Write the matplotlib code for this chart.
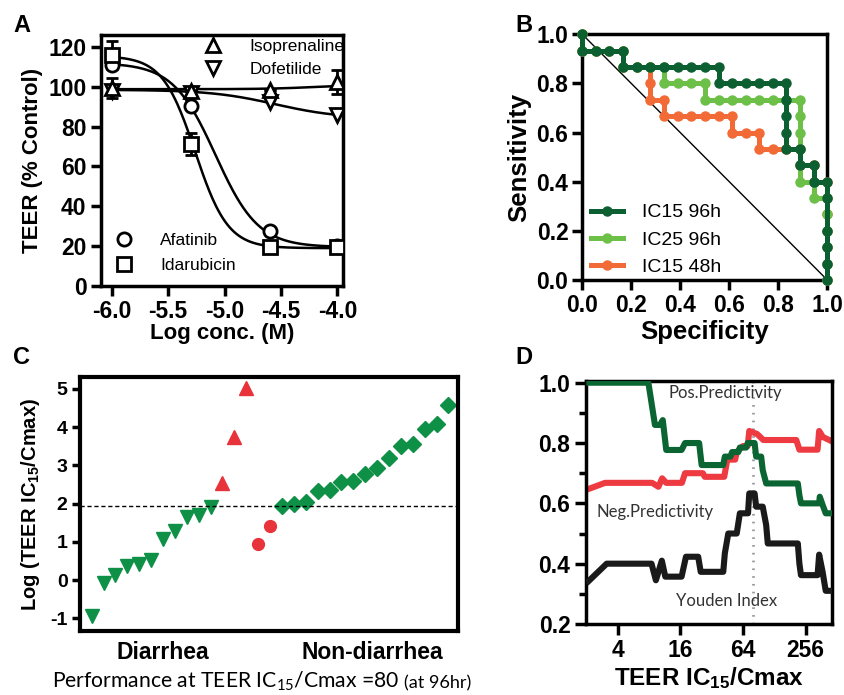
import numpy as np
import matplotlib
matplotlib.use('Agg')
import matplotlib.pyplot as plt
from matplotlib.lines import Line2D

plt.rcParams['font.family'] = ['Liberation Sans', 'DejaVu Sans']
plt.rcParams['axes.unicode_minus'] = False
plt.rcParams['mathtext.default'] = 'regular'

# ---- panel A: TEER concentration response ----
conc = [-6.0, -5.3, -4.6, -4.0]
afatinib = [111, 90.5, 27.5, 20]
idarubicin = [116, 71.5, 19.5, 19.5]
idarubicin_err = [7, 5.5, 0, 0]
isoprenaline = [99.5, 98, 98.3, 102.5]
isoprenaline_err = [5, 0, 0, 6]
dofetilide = [98, 97, 92.5, 85.8]
# 4PL fit parameters: top, bottom, logIC50, hill
fit_afatinib = (112, 19.5, -5.08, 2.3)
fit_idarubicin = (115.5, 19, -5.26, 3.0)
fit_isoprenaline = (98.8, 101, -4.2, 2.0)
fit_dofetilide = (98.5, 84, -4.55, 1.5)

# ---- panel B: ROC curves ----
spec_ic15_96 = [0, 0, .056, .111, .167, .167, .222, .278, .333, .389, .444, .5, .556, .556, .611, .667, .722,
                .778, .833, .833, .833, .833, .833, .889, .889, .944, .944, 1, 1, 1, 1, 1, 1]
sens_ic15_96 = [1, .933, .933, .933, .933, .867, .867, .867, .867, .867, .867, .867, .867, .8, .8, .8, .8, .8,
                .8, .733, .667, .6, .533, .533, .467, .467, .4, .4, .333, .2, .133, .067, 0]
spec_ic25_96 = [0, 0, .056, .111, .167, .167, .222, .278, .333, .333, .389, .444, .5, .5, .556, .611, .667,
                .722, .778, .833, .889, .889, .889, .889, .889, .889, .944, .944, 1, 1, 1, 1, 1, 1]
sens_ic25_96 = [1, .933, .933, .933, .933, .867, .867, .867, .867, .8, .8, .8, .8, .733, .733, .733, .733,
                .733, .733, .733, .733, .667, .6, .533, .467, .4, .4, .333, .333, .267, .2, .133, .067, 0]
spec_ic15_48 = [0, 0, .056, .111, .167, .167, .222, .278, .278, .278, .333, .333, .389, .444, .5, .556, .611,
                .611, .667, .722, .722, .778, .833, .889, .889, .944, .944, 1, 1, 1, 1, 1, 1, 1]
sens_ic15_48 = [1, .933, .933, .933, .933, .867, .867, .867, .8, .733, .733, .667, .667, .667, .667, .667,
                .667, .6, .6, .6, .533, .533, .533, .533, .467, .467, .4, .4, .333, .267, .2, .133, .067, 0]

# ---- panel C: log(TEER IC15/Cmax) per drug ----
diarrhea_true = [-0.95, -0.08, 0.14, 0.37, 0.41, 0.53, 1.07, 1.29, 1.66, 1.70, 1.92]
diarrhea_false = [2.53, 3.75, 5.02]
nondiarrhea_false = [0.94, 1.42]
nondiarrhea_true = [1.94, 1.99, 2.05, 2.34, 2.36, 2.56, 2.60, 2.78, 2.93, 3.19, 3.51, 3.56, 3.95, 4.08, 4.58]
cutoff_log = 1.94

# ---- panel D: predictivity vs threshold (x in log2 units) ----
pos_x = [1.0, 2.98, 3.19, 3.35, 3.44, 3.55, 4.04, 4.15, 4.6, 4.68, 5.37, 5.42, 5.6, 5.65, 5.85, 5.9, 6.1,
         6.15, 6.37, 6.42, 6.58, 6.63, 6.74, 7.75, 7.8, 7.85, 8.43, 8.45, 8.54, 8.64, 8.85]
pos_y = [1.0, 1.0, 0.86, 0.86, 0.876, 0.777, 0.777, 0.80, 0.80, 0.727, 0.727, 0.755, 0.755, 0.77, 0.77,
         0.785, 0.785, 0.80, 0.80, 0.755, 0.755, 0.71, 0.666, 0.666, 0.627, 0.60, 0.60, 0.622, 0.595, 0.567, 0.567]
neg_x = [1.0, 1.6, 3.1, 3.3, 3.42, 3.55, 4.05, 4.15, 4.72, 4.78, 5.4, 5.5, 5.75, 5.8, 6.0, 6.15, 6.2, 6.45,
         6.65, 7.7, 7.8, 8.38, 8.43, 8.55, 8.85]
neg_y = [0.645, 0.668, 0.668, 0.655, 0.683, 0.668, 0.668, 0.70, 0.70, 0.688, 0.688, 0.745, 0.745, 0.77, 0.79,
         0.79, 0.84, 0.83, 0.81, 0.81, 0.778, 0.778, 0.84, 0.82, 0.805]
you_x = [1.0, 1.65, 3.08, 3.22, 3.41, 3.52, 4.04, 4.18, 4.57, 4.65, 5.37, 5.42, 5.53, 5.8, 5.9, 6.16, 6.2,
         6.37, 6.42, 6.63, 6.74, 6.79, 7.75, 7.8, 7.85, 8.38, 8.43, 8.54, 8.64, 8.85]
you_y = [0.335, 0.40, 0.40, 0.345, 0.41, 0.357, 0.357, 0.423, 0.423, 0.373, 0.373, 0.434, 0.50, 0.50, 0.567,
         0.567, 0.633, 0.633, 0.589, 0.589, 0.528, 0.467, 0.467, 0.40, 0.362, 0.362, 0.43, 0.373, 0.31, 0.31]
cutoff_ratio = 80

W, H = 844, 695
fig = plt.figure(figsize=(W / 100, H / 100), dpi=100)


def box(l, t, r, b):
    return [l / W, 1 - b / H, (r - l) / W, (b - t) / H]


def style(ax, lw=2.5):
    for s in ax.spines.values():
        s.set_linewidth(lw)


def fourpl(x, p):
    top, bottom, ic50, hill = p
    return bottom + (top - bottom) / (1 + 10 ** ((x - ic50) * hill))


# ===== A =====
axA = fig.add_axes(box(100.5, 35, 343, 286))
style(axA)
xs = np.linspace(-6, -4, 200)
for p in (fit_afatinib, fit_idarubicin, fit_isoprenaline, fit_dofetilide):
    axA.plot(xs, fourpl(xs, p), color='black', lw=1.8, zorder=2)
mk = dict(mfc='white', mec='black', mew=2, ms=9.5, ls='none', zorder=3)
axA.errorbar(conc, idarubicin, yerr=idarubicin_err, fmt='s', capsize=4.5, ecolor='black', elinewidth=2,
             capthick=2, **mk)
axA.errorbar(conc, isoprenaline, yerr=isoprenaline_err, fmt='^', capsize=4.5, ecolor='black', elinewidth=2,
             capthick=2, **mk)
axA.plot(conc, dofetilide, 'v', **mk)
axA.plot(conc, afatinib, 'o', **mk)
axA.set_xlim(-6.1, -3.95)
axA.set_ylim(0, 126)
axA.set_xticks([-6.0, -5.5, -5.0, -4.5, -4.0])
axA.set_xticklabels(['-6.0', '-5.5', '-5.0', '-4.5', '-4.0'])
axA.set_yticks(range(0, 121, 20))
axA.tick_params(width=2.5, length=7, labelsize=16.5, pad=3)
for t in axA.get_xticklabels() + axA.get_yticklabels():
    t.set_fontweight('bold')
axA.set_xlabel('Log conc. (M)', fontsize=16, fontweight='bold', labelpad=0)
axA.set_ylabel('TEER (% Control)', fontsize=16, fontweight='bold', labelpad=4)
lm = dict(mfc='white', mec='black', mew=2, ms=9.5, ls='none')
h1 = [Line2D([], [], marker='^', **lm), Line2D([], [], marker='v', **lm)]
leg1 = axA.legend(h1, ['Isoprenaline', 'Dofetilide'], loc='upper left', bbox_to_anchor=(0.428, 0.985),
                  frameon=False, fontsize=12.5, handlelength=1.0, handletextpad=1.6, borderpad=0,
                  borderaxespad=0, labelspacing=0.45)
axA.add_artist(leg1)
h2 = [Line2D([], [], marker='o', **lm), Line2D([], [], marker='s', **lm)]
axA.legend(h2, ['Afatinib', 'Idarubicin'], loc='upper left', bbox_to_anchor=(0.061, 0.21),
           frameon=False, fontsize=12.5, handlelength=1.0, handletextpad=1.6, borderpad=0,
           borderaxespad=0, labelspacing=0.55)
fig.text(13 / W, 1 - 26 / H, 'A', fontsize=17, fontweight='bold', va='center')

# ===== B =====
axB = fig.add_axes(box(582.3, 34.3, 827.3, 280))
style(axB)
axB.plot([0, 1], [1, 0], color='black', lw=1.0, zorder=1)
roc = [(spec_ic15_48, sens_ic15_48, '#F26A36', 'IC15 48h'),
       (spec_ic25_96, sens_ic25_96, '#6CBF47', 'IC25 96h'),
       (spec_ic15_96, sens_ic15_96, '#0B5F30', 'IC15 96h')]
for sx, sy, c, lab in roc:
    axB.plot(sx, sy, color=c, lw=3.6, marker='o', ms=6.5, label=lab, clip_on=False, zorder=3)
axB.set_xlim(0, 1)
axB.set_ylim(0, 1)
ticks = [0, 0.2, 0.4, 0.6, 0.8, 1.0]
axB.set_xticks(ticks)
axB.set_yticks(ticks)
axB.set_xticklabels(['%.1f' % t for t in ticks])
axB.set_yticklabels(['%.1f' % t for t in ticks])
axB.tick_params(width=2.5, length=7, labelsize=16.5, pad=3)
for t in axB.get_xticklabels() + axB.get_yticklabels():
    t.set_fontweight('bold')
axB.set_xlabel('Specificity', fontsize=18.5, fontweight='bold', labelpad=2)
axB.set_ylabel('Sensitivity', fontsize=18.5, fontweight='bold', labelpad=4)
hl, ll = axB.get_legend_handles_labels()
axB.legend(hl[::-1], ll[::-1], loc='upper left', bbox_to_anchor=(0.034, 0.31), frameon=False, fontsize=14,
           handlelength=1.65, handletextpad=1.0, borderpad=0, borderaxespad=0, labelspacing=0.5)
fig.text(515 / W, 1 - 26 / H, 'B', fontsize=17, fontweight='bold', va='center')

# ===== C =====
axC = fig.add_axes(box(80, 377, 458, 631))
style(axC, 3)
n1, n2, n3 = len(diarrhea_true), len(diarrhea_false), len(nondiarrhea_false)
x1 = np.arange(n1)
x2 = np.arange(n2) + n1
x3 = np.arange(n3) + n1 + n2
x4 = np.arange(len(nondiarrhea_true)) + n1 + n2 + n3
green, red = '#0E9147', '#E8333B'
axC.plot(x1, diarrhea_true, 'v', color=green, ms=10, ls='none')
axC.plot(x2, diarrhea_false, '^', color=red, ms=10, ls='none')
axC.plot(x3, nondiarrhea_false, 'o', color=red, ms=8.5, ls='none')
axC.plot(x4, nondiarrhea_true, 'D', color=green, ms=8, ls='none')
axC.axhline(cutoff_log, color='black', lw=1.0, ls=(0, (3, 2)))
axC.set_xlim(-0.98, 30.8)
axC.set_ylim(-1.33, 5.31)
axC.set_yticks(range(-1, 6))
axC.set_xticks([6.0, 23.6])
axC.set_xticklabels(['Diarrhea', 'Non-diarrhea'], fontsize=16.5, fontweight='bold')
axC.tick_params(axis='x', length=0, pad=7)
axC.tick_params(axis='y', width=2.5, length=6, labelsize=14, pad=3)
for t in axC.get_yticklabels():
    t.set_fontweight('bold')
axC.set_ylabel('Log (TEER IC$_{15}$/Cmax)', fontsize=14.5, fontweight='bold', labelpad=6)
fig.text(52 / W, 1 - 688 / H, 'Performance at TEER IC$_{15}$/Cmax =80', fontsize=15.2, family='Lato',
         va='baseline')
fig.text(404 / W, 1 - 688 / H, '(at 96hr)', fontsize=13, family='Lato', va='baseline')
fig.text(13 / W, 1 - 357 / H, 'C', fontsize=17, fontweight='bold', va='center')

# ===== D =====
axD = fig.add_axes(box(585.7, 381.2, 832.3, 624))
style(axD)
axD.set_xscale('log', base=2)
axD.axvline(cutoff_ratio, color='#9a9aa6', lw=2, ls=(0, (0.6, 2.2)), zorder=1)
lk = dict(lw=4.4, solid_joinstyle='round', solid_capstyle='butt')
axD.plot(2 ** np.array(neg_x), neg_y, color='#EE3A41', zorder=2, **lk)
axD.plot(2 ** np.array(pos_x), pos_y, color='#0B6532', zorder=3, **lk)
axD.plot(2 ** np.array(you_x), you_y, color='#1A1A1A', zorder=3, **lk)
axD.set_xlim(2 ** 0.98, 2 ** 8.85)
axD.set_ylim(0.2, 1.005)
axD.set_xticks([4, 16, 64, 256])
axD.set_xticklabels(['4', '16', '64', '256'])
axD.xaxis.set_minor_locator(matplotlib.ticker.NullLocator())
axD.set_yticks([0.2, 0.4, 0.6, 0.8, 1.0])
axD.set_yticklabels(['0.2', '0.4', '0.6', '0.8', '1.0'])
axD.set_yticks([0.3, 0.5, 0.7, 0.9], minor=True)
axD.tick_params(which='major', width=2.5, length=8, labelsize=16.5, pad=3)
axD.tick_params(which='minor', width=2.5, length=5)
for t in axD.get_xticklabels() + axD.get_yticklabels():
    t.set_fontweight('bold')
axD.set_xlabel('TEER IC$_{15}$/Cmax', fontsize=17.5, fontweight='bold', labelpad=2)
tk = dict(transform=axD.transAxes, fontsize=12, family='Lato', ha='center', va='center', color='#333333')
axD.text((725 - 585.7) / 246.6, 1 - (393 - 381.2) / 242.8, 'Pos.Predictivity', **tk)
axD.text((655 - 585.7) / 246.6, 1 - (512 - 381.2) / 242.8, 'Neg.Predictivity', **tk)
axD.text((727 - 585.7) / 246.6, 1 - (601 - 381.2) / 242.8, 'Youden Index', **tk)
fig.text(515 / W, 1 - 357 / H, 'D', fontsize=17, fontweight='bold', va='center')

fig.savefig('out.png', dpi=100)
